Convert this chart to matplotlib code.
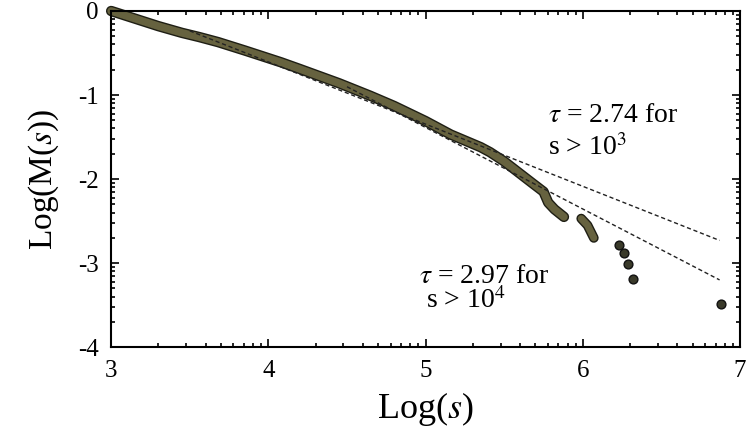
import numpy as np
import matplotlib.pyplot as plt
import matplotlib.patheffects as pe

plt.rcParams['font.family'] = ['Liberation Serif', 'DejaVu Serif']
plt.rcParams['mathtext.fontset'] = 'stix'
plt.rcParams['axes.unicode_minus'] = False

# main curve (dense points)
curve_x = [3.00, 3.10, 3.20, 3.30, 3.45, 3.56, 3.68, 3.85, 4.08, 4.20, 4.45, 4.65,
           4.80, 5.00, 5.16, 5.35, 5.41, 5.50, 5.59, 5.68, 5.75, 5.78, 5.82, 5.88]
curve_y = [0.00, -0.06, -0.12, -0.18, -0.26, -0.31, -0.37, -0.47, -0.61, -0.69, -0.86, -1.01,
           -1.13, -1.31, -1.47, -1.62, -1.68, -1.79, -1.92, -2.05, -2.15, -2.28, -2.36, -2.45]
# short segment after the gap
seg_x = [5.99, 6.03, 6.07]
seg_y = [-2.47, -2.55, -2.70]
# isolated points in the tail
tail_x = [6.23, 6.26, 6.29, 6.32, 6.88]
tail_y = [-2.79, -2.88, -3.01, -3.19, -3.49]

# fitted power laws
fit1_x = [3.5, 6.87]
fit1_tau = 2.74
fit2_x = [4.5, 6.87]
fit2_tau = 2.97
fit1_end, fit2_end = -2.73, -3.20

olive = '#66623f'
edge = '#1e1e14'

fig = plt.figure(figsize=(7.46, 4.4), dpi=100)
ax = fig.add_axes([0.149, 0.211, 0.843, 0.764])

for xs, tau, yend in [(fit1_x, fit1_tau, fit1_end), (fit2_x, fit2_tau, fit2_end)]:
    slope = -(tau - 2)
    ys = [yend + slope * (x - xs[-1]) for x in xs]
    ax.plot(xs, ys, linestyle=(0, (3, 2)), color='#222222', lw=1.0, zorder=3)

ax.plot(curve_x, curve_y, color=olive, lw=5.5, solid_capstyle='round', clip_on=False,
        path_effects=[pe.Stroke(linewidth=7.5, foreground=edge), pe.Normal()], zorder=2)
ax.plot(seg_x, seg_y, color=olive, lw=5, solid_capstyle='round',
        path_effects=[pe.Stroke(linewidth=7, foreground=edge), pe.Normal()], zorder=2)
ax.scatter(tail_x, tail_y, s=40, color='#3a3a2a', edgecolor='#111111', lw=1, zorder=4)

ax.text(5.78, -1.32, r'$\tau$ = 2.74 for', fontsize=20, va='baseline')
ax.text(5.78, -1.71, r's > 10$^3$', fontsize=20, va='baseline')
ax.text(4.96, -3.24, r'$\tau$ = 2.97 for', fontsize=20, va='baseline')
ax.text(5.00, -3.53, r's > 10$^4$', fontsize=20, va='baseline')

ax.set_xlim(3, 7)
ax.set_ylim(-4, 0)
ax.set_xticks([3, 4, 5, 6, 7])
ax.set_yticks([-4, -3, -2, -1, 0])
ax.set_yticklabels(['-4', '-3', '-2', '-1', '0'])
minor = np.log10(np.arange(2, 10))
ax.set_xticks([d + m for d in range(3, 7) for m in minor], minor=True)
ax.set_yticks([d + m for d in range(-4, 0) for m in minor], minor=True)
ax.tick_params(which='both', direction='in', top=True, right=True, width=1.2)
ax.tick_params(which='major', length=6, labelsize=18, pad=9)
ax.tick_params(which='minor', length=3)
for sp in ax.spines.values():
    sp.set_linewidth(1.5)

ax.set_xlabel(r'Log($s$)', fontsize=26, labelpad=6)
ax.set_ylabel(r'Log(M($s$))', fontsize=24, labelpad=12)

fig.savefig('out.png', dpi=100)
